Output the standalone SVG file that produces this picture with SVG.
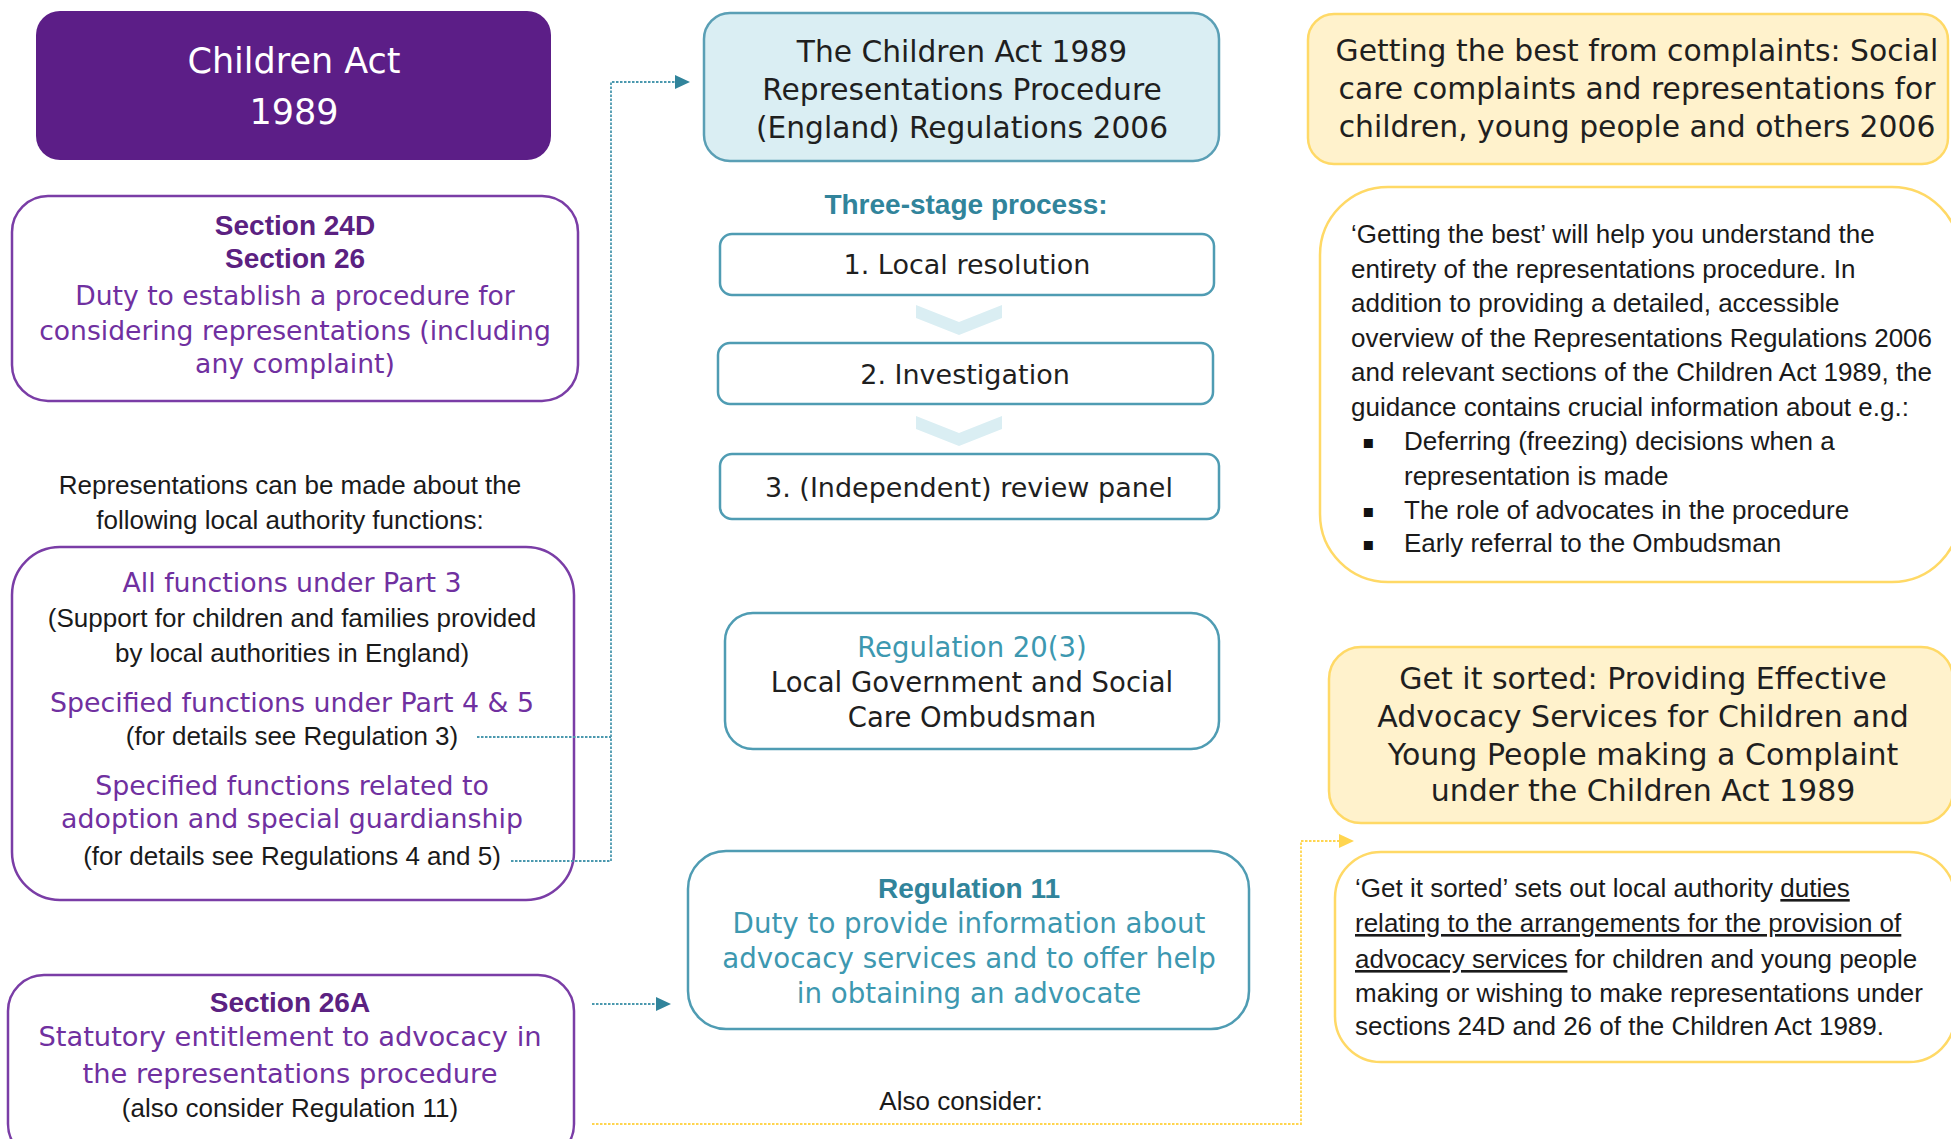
<svg xmlns="http://www.w3.org/2000/svg" width="1951" height="1139" viewBox="0 0 1951 1139">
<defs>
<style>
  .cg { font-family: "DejaVu Sans", "Noto Sans", sans-serif; }
  .cb { font-family: "Liberation Sans", Arial, sans-serif; font-size: 26px; fill: #1a1a1a; }
  .hb { font-family: "Liberation Sans", Arial, sans-serif; font-weight: 700; font-size: 28px; }
  .mid { text-anchor: middle; }
  .pbox { fill: #ffffff; stroke: #7A3DA6; stroke-width: 2.5; }
  .tbox { fill: #ffffff; stroke: #4F9CB3; stroke-width: 2.5; }
  .bbox { fill: #DAEEF3; stroke: #5A9FB5; stroke-width: 2.5; }
  .ybox { fill: #FFF2CC; stroke: #FFD966; stroke-width: 2.5; }
  .ywbox { fill: #ffffff; stroke: #FFD966; stroke-width: 2.5; }
  .ptext { fill: #7030A0; }
  .pdark { fill: #5B2181; }
  .teal { fill: #31849B; }
  .tlight { fill: #3D98B0; }
  .dark { fill: #1f1f1f; }
  .chev { fill: #DAEEF3; }
  .bullet { font-family: "DejaVu Sans", sans-serif; font-size: 18px; fill: #111111; }
  .conn-t { fill: none; stroke: #4A98AE; stroke-width: 1.8; stroke-dasharray: 2.5 1.5; }
  .conn-y { fill: none; stroke: #FFD54F; stroke-width: 1.8; stroke-dasharray: 2.5 1.5; }
</style>
<marker id="arrT" markerUnits="userSpaceOnUse" markerWidth="15" markerHeight="14" refX="0" refY="7" orient="auto" viewBox="0 0 15 14">
  <path d="M0,0 L15,7 L0,14 Z" fill="#31849B"/>
</marker>
<marker id="arrY" markerUnits="userSpaceOnUse" markerWidth="15" markerHeight="14" refX="0" refY="7" orient="auto" viewBox="0 0 15 14">
  <path d="M0,0 L15,7 L0,14 Z" fill="#FFD54F"/>
</marker>
</defs>

<rect width="1951" height="1139" fill="#ffffff"/>

<!-- left column -->
<g id="children-act">
  <rect x="36" y="11" width="515" height="149" rx="24" fill="#5C1E87"/>
  <text class="cg mid" x="294" y="73" font-size="35" fill="#ffffff">Children Act</text>
  <text class="cg mid" x="294" y="124" font-size="35" fill="#ffffff">1989</text>
</g>

<g id="section-24d-26">
  <rect class="pbox" x="12" y="196" width="566" height="205" rx="36"/>
  <text class="hb pdark mid" x="295" y="235">Section 24D</text>
  <text class="hb pdark mid" x="295" y="268">Section 26</text>
  <text class="cg ptext mid" x="295" y="305" font-size="26.6">Duty to establish a procedure for</text>
  <text class="cg ptext mid" x="295" y="340" font-size="26.6">considering representations (including</text>
  <text class="cg ptext mid" x="295" y="373" font-size="26.6">any complaint)</text>
</g>

<g id="functions-intro">
  <text class="cb mid" x="290" y="494">Representations can be made about the</text>
  <text class="cb mid" x="290" y="529">following local authority functions:</text>
</g>

<g id="functions">
  <rect class="pbox" x="12" y="547" width="562" height="353" rx="48"/>
  <text class="cg ptext mid" x="292" y="592" font-size="26.8">All functions under Part 3</text>
  <text class="cb mid" x="292" y="627">(Support for children and families provided</text>
  <text class="cb mid" x="292" y="662">by local authorities in England)</text>
  <text class="cg ptext mid" x="292" y="712" font-size="26.8">Specified functions under Part 4 &amp; 5</text>
  <text class="cb mid" x="292" y="745">(for details see Regulation 3)</text>
  <text class="cg ptext mid" x="292" y="795" font-size="26.8">Specified functions related to</text>
  <text class="cg ptext mid" x="292" y="828" font-size="26.8">adoption and special guardianship</text>
  <text class="cb mid" x="292" y="865">(for details see Regulations 4 and 5)</text>
</g>

<g id="section-26a">
  <rect class="pbox" x="8" y="975" width="566" height="185" rx="36"/>
  <text class="hb pdark mid" x="290" y="1012">Section 26A</text>
  <text class="cg ptext mid" x="290" y="1046" font-size="27.3">Statutory entitlement to advocacy in</text>
  <text class="cg ptext mid" x="290" y="1083" font-size="27.3">the representations procedure</text>
  <text class="cb mid" x="290" y="1117">(also consider Regulation 11)</text>
</g>

<!-- middle column -->
<g id="regulations-2006">
  <rect class="bbox" x="704" y="13" width="515" height="148" rx="26"/>
  <text class="cg dark mid" x="962" y="62" font-size="29.7">The Children Act 1989</text>
  <text class="cg dark mid" x="962" y="100" font-size="29.7">Representations Procedure</text>
  <text class="cg dark mid" x="962" y="138" font-size="29.7">(England) Regulations 2006</text>
</g>

<g id="three-stage-title">
  <text class="hb teal mid" x="966" y="214">Three-stage process:</text>
</g>

<g id="stage-1">
  <rect class="tbox" x="720" y="234" width="494" height="61" rx="12"/>
  <text class="cg dark mid" x="967" y="274" font-size="27">1. Local resolution</text>
</g>
<g id="chevron-1">
  <polygon class="chev" points="916,305 959,322 1002,305 1002,318 959,335 916,318"/>
</g>
<g id="stage-2">
  <rect class="tbox" x="718" y="343" width="495" height="61" rx="12"/>
  <text class="cg dark mid" x="965" y="384" font-size="27">2. Investigation</text>
</g>
<g id="chevron-2">
  <polygon class="chev" points="916,416 959,433 1002,416 1002,429 959,446 916,429"/>
</g>
<g id="stage-3">
  <rect class="tbox" x="720" y="454" width="499" height="65" rx="12"/>
  <text class="cg dark mid" x="969" y="497" font-size="27">3. (Independent) review panel</text>
</g>

<g id="regulation-20-3">
  <rect class="tbox" x="725" y="613" width="494" height="136" rx="28"/>
  <text class="cg tlight mid" x="972" y="657" font-size="27.5">Regulation 20(3)</text>
  <text class="cg dark mid" x="972" y="692" font-size="27.5">Local Government and Social</text>
  <text class="cg dark mid" x="972" y="727" font-size="27.5">Care Ombudsman</text>
</g>

<g id="regulation-11">
  <rect class="tbox" x="688" y="851" width="561" height="178" rx="38"/>
  <text class="hb teal mid" x="969" y="898">Regulation 11</text>
  <text class="cg tlight mid" x="969" y="933" font-size="27.7">Duty to provide information about</text>
  <text class="cg tlight mid" x="969" y="968" font-size="27.7">advocacy services and to offer help</text>
  <text class="cg tlight mid" x="969" y="1003" font-size="27.7">in obtaining an advocate</text>
</g>

<g id="also-consider">
  <text class="cb mid" x="961" y="1110">Also consider:</text>
</g>

<!-- right column -->
<g id="getting-the-best">
  <rect class="ybox" x="1308" y="14" width="640" height="150" rx="26"/>
  <text class="cg dark mid" x="1637" y="61" font-size="29.8">Getting the best from complaints: Social</text>
  <text class="cg dark mid" x="1637" y="99" font-size="29.8">care complaints and representations for</text>
  <text class="cg dark mid" x="1637" y="137" font-size="29.8">children, young people and others 2006</text>
</g>

<g id="getting-the-best-notes">
  <rect class="ywbox" x="1320" y="187" width="640" height="395" rx="68"/>
  <text class="cb" x="1351" y="243">‘Getting the best’ will help you understand the</text>
  <text class="cb" x="1351" y="278">entirety of the representations procedure. In</text>
  <text class="cb" x="1351" y="312">addition to providing a detailed, accessible</text>
  <text class="cb" x="1351" y="347">overview of the Representations Regulations 2006</text>
  <text class="cb" x="1351" y="381">and relevant sections of the Children Act 1989, the</text>
  <text class="cb" x="1351" y="416">guidance contains crucial information about e.g.:</text>
  <text class="bullet" x="1362" y="448">▪</text>
  <text class="cb" x="1404" y="450">Deferring (freezing) decisions when a</text>
  <text class="cb" x="1404" y="485">representation is made</text>
  <text class="bullet" x="1362" y="517">▪</text>
  <text class="cb" x="1404" y="519">The role of advocates in the procedure</text>
  <text class="bullet" x="1362" y="550">▪</text>
  <text class="cb" x="1404" y="552">Early referral to the Ombudsman</text>
</g>

<g id="get-it-sorted">
  <rect class="ybox" x="1329" y="647" width="624" height="176" rx="32"/>
  <text class="cg dark mid" x="1643" y="689" font-size="30">Get it sorted: Providing Effective</text>
  <text class="cg dark mid" x="1643" y="727" font-size="30">Advocacy Services for Children and</text>
  <text class="cg dark mid" x="1643" y="765" font-size="30">Young People making a Complaint</text>
  <text class="cg dark mid" x="1643" y="801" font-size="30">under the Children Act 1989</text>
</g>

<g id="get-it-sorted-notes">
  <rect class="ywbox" x="1335" y="852" width="620" height="210" rx="46"/>
  <text class="cb" x="1355" y="897">‘Get it sorted’ sets out local authority <tspan text-decoration="underline">duties</tspan></text>
  <text class="cb" x="1355" y="932"><tspan text-decoration="underline">relating to the arrangements for the provision of</tspan></text>
  <text class="cb" x="1355" y="968"><tspan text-decoration="underline">advocacy services</tspan> for children and young people</text>
  <text class="cb" x="1355" y="1002">making or wishing to make representations under</text>
  <text class="cb" x="1355" y="1035">sections 24D and 26 of the Children Act 1989.</text>
</g>

<!-- connectors, drawn last so they run across the box outlines -->
<g id="connectors">
  <path class="conn-t" d="M477,737 H611"/>
  <path class="conn-t" d="M511,861 H611 V82 H675" marker-end="url(#arrT)"/>
  <path class="conn-t" d="M592,1004 H656" marker-end="url(#arrT)"/>
  <path class="conn-y" d="M592,1124 H1301 V841 H1339" marker-end="url(#arrY)"/>
</g>
</svg>
